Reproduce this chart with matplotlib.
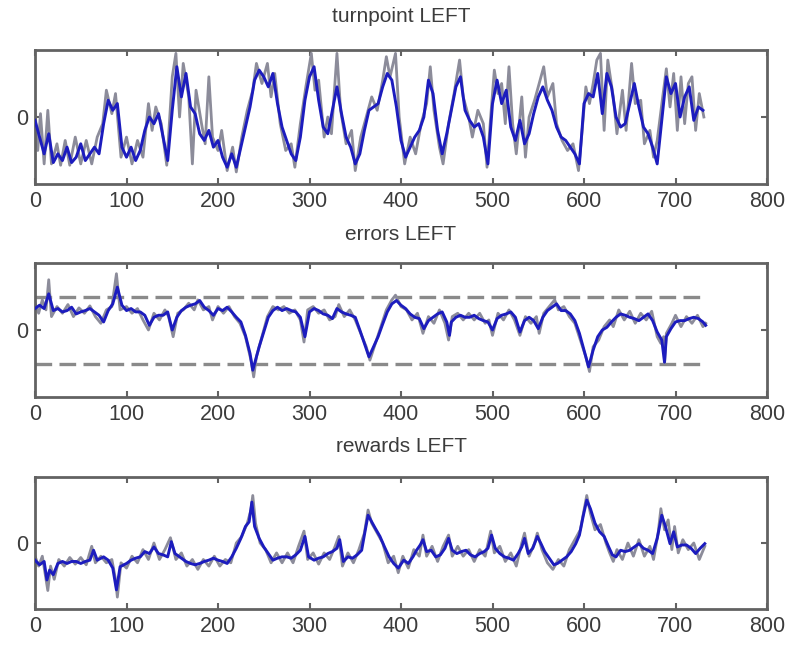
import matplotlib
matplotlib.use("Agg")
import matplotlib.pyplot as plt

plt.rcParams['font.family'] = ['Liberation Sans', 'DejaVu Sans']

titles = ["turnpoint LEFT", "errors LEFT", "rewards LEFT"]
xticks = [0, 100, 200, 300, 400, 500, 600, 700, 800]
dash_levels = [0.5, -0.5]

# ---- turnpoint: blue trace
x_turn = [0, 5, 10, 15, 20, 25, 30, 35, 40, 45, 50, 55, 60, 65, 70, 75, 80, 85, 90, 95,
          100, 105, 110, 115, 120, 125, 130, 135, 140, 145, 150, 155, 160, 165, 170, 175,
          180, 185, 190, 195, 200, 205, 210, 215, 220, 225, 230, 235, 240, 245, 250, 255,
          260, 265, 270, 275, 280, 285, 290, 295, 300, 305, 310, 315, 320, 325, 330, 335,
          340, 345, 350, 355, 360, 365, 370, 375, 380, 385, 390, 395, 400, 405, 410, 415,
          420, 425, 430, 435, 440, 445, 450, 455, 460, 465, 470, 475, 480, 485, 490, 495,
          500, 505, 510, 515, 520, 525, 530, 535, 540, 545, 550, 555, 560, 565, 570, 575,
          580, 585, 590, 595, 600, 605, 610, 615, 620, 625, 630, 635, 640, 645, 650, 655,
          660, 665, 670, 675, 680, 685, 690, 695, 700, 705, 710, 715, 720, 725, 730]
y_turn = [-0.05, -0.30, -0.55, -0.25, -0.68, -0.55, -0.65, -0.45, -0.68, -0.60, -0.40,
          -0.65, -0.55, -0.45, -0.55, -0.10, 0.25, 0.10, 0.20, -0.45, -0.60, -0.45, -0.65,
          -0.50, -0.20, 0.00, -0.10, 0.05, -0.30, -0.65, 0.10, 0.75, 0.30, 0.65, 0.15, 0.05,
          -0.25, -0.35, -0.20, -0.45, -0.35, -0.60, -0.75, -0.55, -0.75, -0.45, -0.15, 0.15,
          0.55, 0.70, 0.60, 0.45, 0.65, 0.20, -0.15, -0.35, -0.55, -0.65, -0.30, 0.25, 0.60,
          0.75, 0.25, -0.15, -0.25, 0.10, 0.45, 0.05, -0.30, -0.45, -0.70, -0.55, -0.20,
          0.10, 0.15, 0.20, 0.45, 0.65, 0.55, 0.15, -0.35, -0.60, -0.45, -0.30, -0.20, 0.00,
          0.55, 0.35, -0.20, -0.55, -0.25, 0.10, 0.45, 0.60, 0.10, -0.05, -0.15, -0.10,
          -0.30, -0.70, 0.20, 0.55, 0.20, 0.40, -0.15, -0.35, -0.05, -0.40, -0.25, 0.05,
          0.30, 0.45, 0.25, 0.10, -0.15, -0.30, -0.35, -0.45, -0.55, -0.70, 0.20, 0.35,
          0.30, 0.65, 0.05, 0.65, 0.45, 0.00, -0.15, -0.10, 0.20, 0.50, 0.15, -0.15, -0.25,
          -0.45, -0.70, -0.05, 0.60, 0.35, 0.50, 0.00, 0.30, 0.45, -0.05, 0.15, 0.10]

# ---- turnpoint: gray trace
xg_turn = [0, 3, 6, 10, 14, 18, 24, 28, 33, 38, 44, 50, 56, 62, 68, 74, 78, 84, 88, 94,
           100, 106, 112, 118, 124, 128, 132, 138, 144, 150, 154, 158, 162, 168, 172, 176,
           182, 186, 190, 194, 200, 204, 210, 216, 220, 226, 232, 238, 242, 248, 254, 258,
           262, 268, 274, 280, 284, 290, 296, 302, 306, 310, 316, 320, 324, 330, 334, 340,
           346, 350, 356, 362, 368, 374, 380, 384, 388, 394, 398, 404, 410, 416, 422, 428,
           432, 436, 442, 446, 452, 458, 464, 468, 474, 478, 484, 490, 494, 498, 502, 506,
           510, 514, 518, 522, 526, 532, 536, 540, 546, 552, 556, 560, 566, 570, 576, 582,
           588, 594, 598, 602, 606, 610, 614, 618, 622, 626, 632, 636, 642, 646, 652, 656,
           662, 666, 672, 676, 680, 686, 690, 694, 698, 702, 706, 710, 714, 718, 722, 726, 731]
yg_turn = [0.10, -0.50, 0.05, -0.70, 0.10, -0.70, -0.40, -0.72, -0.35, -0.72, -0.30, -0.70,
           -0.35, -0.70, -0.30, -0.10, 0.40, 0.05, 0.35, -0.60, -0.30, -0.70, -0.35, -0.60,
           0.20, -0.20, 0.15, -0.10, -0.72, 0.60, 0.95, 0.00, 0.80, 0.30, -0.70, 0.40, -0.10,
           -0.40, 0.60, -0.30, -0.50, -0.20, -0.80, -0.45, -0.82, -0.30, 0.10, 0.40, 0.80,
           0.50, 0.80, 0.30, 0.65, -0.10, -0.50, -0.40, -0.75, -0.10, 0.45, 0.95, 0.40, 0.55,
           -0.30, 0.00, -0.25, 0.95, 0.10, -0.40, -0.20, -0.80, -0.30, 0.00, 0.30, 0.10, 0.55,
           0.90, 0.60, 0.95, 0.00, -0.70, -0.30, -0.55, -0.10, 0.20, 0.75, 0.10, -0.45, -0.70,
           -0.10, 0.35, 0.85, 0.30, 0.00, -0.30, 0.10, -0.10, -0.75, 0.00, 0.70, 0.35, 0.50,
           -0.10, 0.75, -0.10, -0.55, 0.30, -0.60, 0.00, 0.25, 0.55, 0.75, 0.30, 0.50, -0.10,
           -0.35, -0.50, -0.40, -0.80, -0.20, 0.45, 0.20, 0.50, 0.85, 0.95, -0.20, 0.85, 0.30,
           -0.25, 0.40, -0.20, 0.80, 0.20, 0.25, -0.40, -0.20, -0.60, -0.35, 0.30, 0.72, 0.15,
           0.65, -0.20, 0.60, -0.10, 0.50, 0.60, -0.20, 0.35, 0.00]

# ---- errors: blue trace
x_err = [0, 5, 10, 15, 20, 25, 30, 35, 40, 45, 50, 55, 60, 65, 70, 75, 80, 85, 90, 95,
         100, 105, 110, 115, 120, 125, 130, 135, 140, 145, 150, 155, 160, 165, 170, 175,
         180, 185, 190, 195, 200, 205, 210, 215, 220, 225, 230, 235, 238, 240, 245, 250,
         255, 260, 265, 270, 275, 280, 285, 290, 295, 300, 305, 310, 315, 320, 325, 330,
         335, 340, 345, 350, 355, 360, 365, 370, 375, 380, 385, 390, 395, 400, 405, 410,
         415, 420, 425, 430, 435, 440, 445, 450, 453, 455, 460, 465, 470, 475, 480, 485,
         490, 495, 500, 505, 510, 515, 520, 525, 530, 535, 540, 545, 550, 555, 560, 565,
         570, 575, 580, 585, 590, 595, 600, 605, 610, 615, 620, 625, 630, 635, 640, 645,
         650, 655, 660, 665, 670, 675, 680, 685, 688, 690, 695, 700, 705, 710, 715, 720,
         725, 730, 733]
y_err = [0.32, 0.37, 0.32, 0.54, 0.29, 0.32, 0.27, 0.29, 0.34, 0.24, 0.27, 0.29, 0.32,
         0.27, 0.22, 0.12, 0.29, 0.39, 0.64, 0.37, 0.29, 0.32, 0.27, 0.27, 0.22, 0.07, 0.19,
         0.22, 0.22, 0.27, 0.00, 0.19, 0.29, 0.34, 0.37, 0.39, 0.44, 0.34, 0.29, 0.22, 0.32,
         0.29, 0.34, 0.27, 0.19, 0.12, -0.08, -0.35, -0.60, -0.50, -0.25, -0.03, 0.19, 0.29,
         0.34, 0.29, 0.32, 0.29, 0.27, 0.19, -0.10, 0.27, 0.32, 0.29, 0.24, 0.22, 0.17, 0.32,
         0.27, 0.24, 0.22, 0.19, 0.00, -0.20, -0.40, -0.25, -0.10, 0.09, 0.27, 0.39, 0.44,
         0.37, 0.32, 0.24, 0.19, 0.17, 0.02, 0.14, 0.19, 0.24, 0.27, 0.12, -0.08, 0.12, 0.19,
         0.22, 0.19, 0.19, 0.22, 0.17, 0.14, 0.12, 0.00, 0.17, 0.22, 0.24, 0.27, 0.19, -0.03,
         0.14, 0.19, 0.14, 0.02, 0.19, 0.29, 0.34, 0.39, 0.29, 0.29, 0.24, 0.14, -0.05, -0.30,
         -0.55, -0.30, -0.10, 0.00, 0.04, 0.12, 0.19, 0.24, 0.22, 0.19, 0.17, 0.14, 0.19, 0.24,
         0.14, -0.03, -0.15, -0.48, -0.10, 0.02, 0.12, 0.14, 0.14, 0.17, 0.19, 0.17, 0.12, 0.07]

# ---- errors: gray trace
xg_err = [0, 4, 8, 12, 15, 18, 24, 30, 36, 42, 48, 54, 60, 66, 72, 78, 84, 89, 93, 100,
          106, 112, 118, 124, 130, 136, 142, 146, 151, 156, 162, 168, 174, 178, 184, 190,
          194, 200, 206, 212, 218, 224, 230, 236, 239, 242, 248, 254, 260, 266, 272, 278,
          284, 290, 294, 298, 304, 310, 316, 322, 328, 332, 338, 344, 350, 356, 362, 366,
          372, 378, 384, 390, 394, 400, 406, 412, 418, 424, 430, 436, 442, 448, 452, 456,
          462, 468, 474, 480, 486, 492, 496, 500, 506, 512, 518, 524, 530, 536, 542, 548,
          551, 556, 562, 568, 572, 578, 584, 590, 596, 602, 606, 610, 616, 622, 628, 632,
          638, 644, 650, 656, 662, 668, 674, 680, 684, 687, 688, 690, 696, 700, 706, 712,
          718, 724, 730, 733]
yg_err = [0.40, 0.25, 0.45, 0.30, 0.75, 0.20, 0.35, 0.25, 0.38, 0.20, 0.33, 0.25, 0.36,
          0.20, 0.10, 0.30, 0.35, 0.84, 0.30, 0.35, 0.25, 0.32, 0.15, 0.00, 0.25, 0.15, 0.30,
          0.20, -0.10, 0.25, 0.30, 0.40, 0.30, 0.45, 0.30, 0.35, 0.15, 0.35, 0.25, 0.35, 0.20,
          0.10, -0.10, -0.45, -0.70, -0.40, -0.10, 0.20, 0.35, 0.30, 0.35, 0.25, 0.30, 0.15,
          -0.18, 0.30, 0.35, 0.25, 0.30, 0.15, 0.20, 0.38, 0.20, 0.30, 0.15, -0.05, -0.25,
          -0.45, -0.20, 0.05, 0.30, 0.45, 0.52, 0.35, 0.30, 0.15, 0.25, -0.05, 0.20, 0.10,
          0.30, 0.10, -0.15, 0.20, 0.25, 0.15, 0.25, 0.15, 0.25, 0.10, 0.15, -0.08, 0.25,
          0.15, 0.30, 0.15, -0.08, 0.20, 0.10, 0.20, -0.05, 0.25, 0.35, 0.45, 0.30, 0.35,
          0.20, 0.10, -0.15, -0.40, -0.62, -0.25, -0.15, 0.05, 0.15, 0.05, 0.30, 0.15, 0.28,
          0.10, 0.25, 0.15, 0.28, -0.10, -0.20, -0.10, -0.50, -0.05, 0.10, 0.22, 0.05, 0.20,
          0.10, 0.22, 0.05, 0.10]

# ---- rewards: blue trace
x_rew = [0, 5, 10, 13, 16, 20, 25, 30, 35, 40, 45, 50, 55, 60, 64, 68, 75, 80, 85, 89,
         93, 100, 105, 110, 115, 120, 125, 130, 135, 140, 145, 149, 153, 158, 165, 170,
         175, 180, 185, 190, 195, 200, 205, 210, 215, 220, 225, 230, 234, 237, 240, 245,
         250, 255, 260, 265, 270, 275, 280, 285, 290, 295, 299, 305, 310, 315, 320, 325,
         330, 333, 337, 342, 347, 352, 357, 361, 364, 368, 372, 377, 382, 387, 392, 397,
         403, 408, 413, 417, 421, 424, 428, 433, 438, 443, 448, 452, 456, 461, 466, 471,
         476, 481, 486, 491, 495, 499, 503, 508, 513, 518, 523, 528, 532, 535, 539, 544,
         549, 553, 557, 562, 567, 571, 576, 581, 586, 591, 595, 599, 603, 607, 612, 617,
         622, 627, 631, 635, 640, 645, 650, 655, 660, 665, 670, 675, 680, 685, 689, 694,
         698, 702, 707, 712, 717, 722, 727, 732]
y_rew = [-0.26, -0.33, -0.28, -0.56, -0.41, -0.48, -0.31, -0.28, -0.31, -0.28, -0.28,
         -0.31, -0.28, -0.26, -0.11, -0.26, -0.21, -0.26, -0.38, -0.71, -0.36, -0.31, -0.26,
         -0.23, -0.21, -0.13, -0.16, -0.06, -0.16, -0.18, -0.21, 0.02, -0.16, -0.21, -0.28,
         -0.31, -0.33, -0.31, -0.28, -0.26, -0.23, -0.26, -0.28, -0.31, -0.21, -0.08, 0.07,
         0.25, 0.32, 0.62, 0.25, 0.07, -0.06, -0.16, -0.26, -0.23, -0.21, -0.21, -0.23,
         -0.18, -0.11, 0.10, -0.21, -0.26, -0.23, -0.21, -0.16, -0.13, -0.08, 0.05, -0.28,
         -0.21, -0.23, -0.18, -0.11, 0.20, 0.42, 0.32, 0.22, 0.10, -0.06, -0.21, -0.31, -0.38,
         -0.26, -0.31, -0.21, -0.11, -0.03, 0.05, -0.13, -0.11, -0.21, -0.18, -0.08, 0.07,
         -0.11, -0.16, -0.13, -0.11, -0.18, -0.21, -0.16, -0.13, -0.08, 0.12, -0.08, -0.16,
         -0.21, -0.23, -0.26, -0.16, -0.06, 0.07, -0.16, -0.08, 0.10, -0.01, -0.13, -0.23,
         -0.33, -0.31, -0.26, -0.21, -0.13, -0.01, 0.12, 0.40, 0.65, 0.52, 0.30, 0.17, 0.10,
         -0.06, -0.18, -0.21, -0.11, -0.13, -0.11, -0.06, -0.01, -0.08, -0.11, -0.16, 0.07,
         0.42, 0.25, -0.01, 0.17, -0.06, -0.03, -0.03, -0.08, -0.16, -0.08, -0.01]

# ---- rewards: gray trace
xg_rew = [0, 4, 8, 12, 14, 17, 21, 26, 32, 38, 44, 50, 56, 62, 66, 72, 78, 84, 88, 90,
          94, 100, 106, 112, 118, 124, 130, 136, 142, 148, 154, 160, 166, 172, 178, 184,
          190, 196, 202, 208, 214, 220, 226, 232, 236, 238, 241, 246, 252, 258, 264, 270,
          276, 282, 288, 294, 298, 304, 310, 316, 322, 328, 332, 336, 342, 348, 354, 360,
          364, 368, 374, 380, 386, 392, 397, 402, 408, 414, 420, 424, 428, 434, 440, 446,
          452, 456, 462, 468, 474, 480, 486, 492, 498, 502, 508, 514, 520, 526, 532, 535,
          540, 546, 549, 554, 560, 566, 572, 578, 584, 590, 596, 600, 603, 607, 612, 618,
          624, 628, 632, 636, 642, 648, 654, 660, 666, 672, 676, 681, 684, 688, 692, 696,
          699, 703, 708, 714, 720, 726, 732]
yg_rew = [-0.20, -0.35, -0.20, -0.55, -0.72, -0.35, -0.55, -0.25, -0.35, -0.22, -0.32,
          -0.22, -0.33, -0.05, -0.30, -0.20, -0.30, -0.25, -0.55, -0.82, -0.30, -0.38, -0.20,
          -0.30, -0.10, -0.25, 0.00, -0.25, -0.10, 0.08, -0.25, -0.15, -0.35, -0.25, -0.40,
          -0.25, -0.35, -0.20, -0.35, -0.25, -0.30, 0.00, 0.10, 0.30, 0.50, 0.72, 0.30, 0.00,
          -0.10, -0.30, -0.15, -0.30, -0.15, -0.30, -0.05, 0.18, -0.25, -0.15, -0.32, -0.15,
          -0.25, -0.05, 0.10, -0.35, -0.15, -0.30, -0.10, 0.15, 0.50, 0.30, 0.15, 0.00, -0.30,
          -0.20, -0.45, -0.20, -0.38, -0.10, -0.20, 0.12, -0.20, -0.05, -0.28, -0.05, 0.12,
          -0.20, -0.05, -0.20, -0.10, -0.28, -0.10, -0.20, 0.18, -0.15, -0.05, -0.28, -0.15,
          -0.35, 0.00, 0.15, -0.20, 0.00, 0.15, -0.10, -0.30, -0.40, -0.25, -0.35, -0.10,
          0.05, 0.20, 0.50, 0.72, 0.45, 0.20, 0.28, 0.00, -0.15, -0.28, -0.10, -0.25, 0.00,
          -0.20, 0.05, -0.20, -0.05, -0.25, 0.15, 0.52, 0.20, 0.35, -0.10, 0.25, -0.15, 0.05,
          -0.10, 0.00, -0.25, -0.05]

W, H = 789, 646
fig = plt.figure(figsize=(W / 100, H / 100), dpi=100)

# axes boxes in pixels: (left, top, right, bottom)
boxes = [(35, 50, 767, 184), (35, 263, 767, 397), (35, 477, 767, 609)]
title_y = [17, 235, 447]

series = [
    (x_turn, y_turn, xg_turn, yg_turn, False),
    (x_err, y_err, xg_err, yg_err, True),
    (x_rew, y_rew, xg_rew, yg_rew, False),
]

frame_col = '#626262'
text_col = '#3c3c3c'
blue = '#1c1cbe'
gray = '#8c8c9a'

for (l, t, r, b), ty, (xb, yb, xg, yg, dashed), title in zip(boxes, title_y, series, titles):
    ax = fig.add_axes([l / W, 1 - b / H, (r - l) / W, (b - t) / H])
    if dashed:
        for lev in dash_levels:
            ax.plot([0, 733], [lev, lev], color='#8a8a8a', lw=2.4,
                    dashes=(5, 2.2), zorder=1)
    ax.plot(xg, yg, color=gray, lw=2.0, zorder=2)
    ax.plot(xb, yb, color=blue, lw=2.1, zorder=3)
    ax.set_xlim(0, 800)
    ax.set_ylim(-1, 1)
    ax.set_xticks(xticks)
    ax.set_xticklabels([str(v) for v in xticks])
    ax.set_yticks([0])
    ax.set_yticklabels(['0'])
    ax.tick_params(direction='in', length=4, width=1.5, color=frame_col,
                   top=True, right=True, labelsize=15.5, labelcolor=text_col, pad=5)
    for s in ax.spines.values():
        s.set_color(frame_col)
        s.set_linewidth(2)
    fig.text(((l + r) / 2) / W, 1 - ty / H, title, ha='center', va='center',
             fontsize=15, color=text_col)

fig.savefig('out.png', dpi=100)
